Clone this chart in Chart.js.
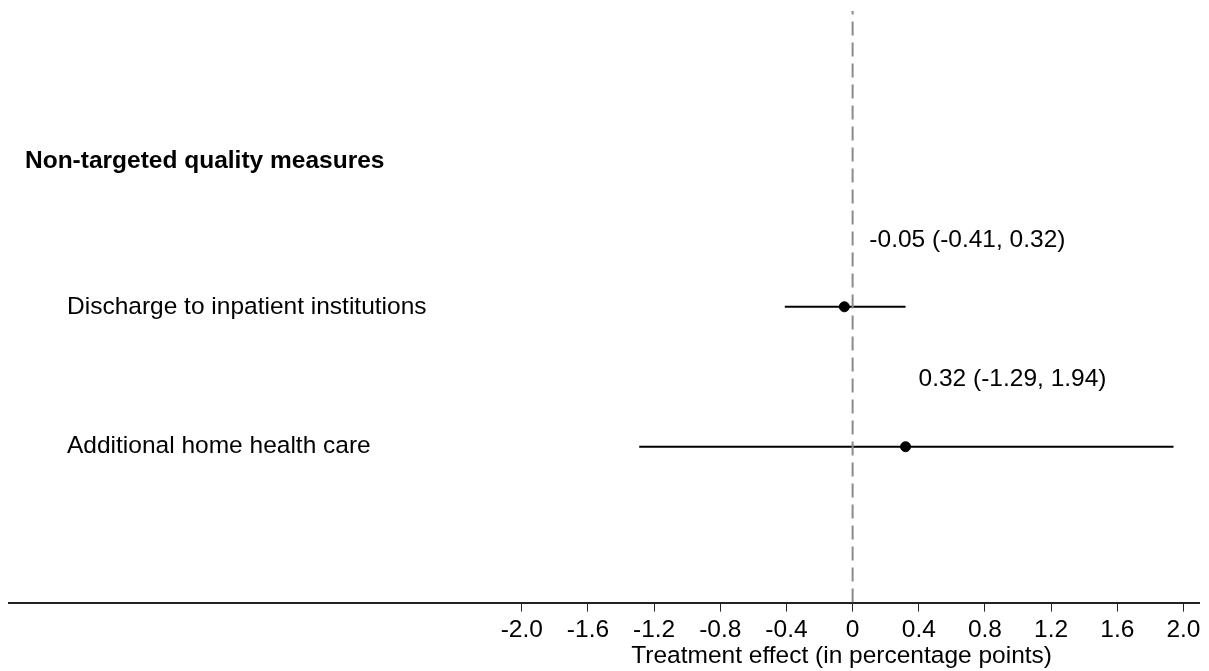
<!DOCTYPE html>
<html>
<head>
<meta charset="utf-8">
<script src="https://cdn.jsdelivr.net/npm/chart.js@4"></script>
<style>
  body { margin: 0; background: #fff; }
</style>
</head>
<body>
<canvas id="forest" width="1209" height="671"></canvas>
<script>
const groupTitle = 'Non-targeted quality measures';
const outcomes = ['Discharge to inpatient institutions', 'Additional home health care'];
const estimates = [-0.05, 0.32];
const lower = [-0.41, -1.29];
const upper = [0.32, 1.94];
const tickValues = [-2.0, -1.6, -1.2, -0.8, -0.4, 0, 0.4, 0.8, 1.2, 1.6, 2.0];
const axisTitle = 'Treatment effect (in percentage points)';

// rows counted from the bottom
const rowY = outcomes.map((_, i) => outcomes.length - i);
const labelShift = [25, 13];
const FONT = '"Liberation Sans", Arial, sans-serif';

const fmt = v => v.toFixed(2);

const datasets = [];
// reference line at zero
datasets.push({
  type: 'line',
  data: [{ x: 0, y: -0.114 }, { x: 0, y: 4.114 }],
  borderColor: '#8a8a8a',
  borderWidth: 2,
  borderDash: [14, 7],
  pointRadius: 0
});
outcomes.forEach((o, i) => {
  datasets.push({
    type: 'line',
    data: [{ x: lower[i], y: rowY[i] }, { x: upper[i], y: rowY[i] }],
    borderColor: '#000',
    borderWidth: 2,
    pointRadius: 0
  });
});
datasets.push({
  type: 'scatter',
  data: estimates.map((e, i) => ({ x: e, y: rowY[i] })),
  backgroundColor: '#000',
  borderColor: '#000',
  pointRadius: 5
});

const textPlugin = {
  id: 'rowText',
  afterDraw(chart) {
    const { ctx, chartArea, scales } = chart;
    const x = scales.x, y = scales.y;
    ctx.save();
    ctx.fillStyle = '#000';
    ctx.textBaseline = 'middle';
    ctx.textAlign = 'left';
    ctx.font = 'bold 24.5px ' + FONT;
    ctx.fillText(groupTitle, chartArea.left + 16, y.getPixelForValue(3.04));
    ctx.font = '24.5px ' + FONT;
    outcomes.forEach((o, i) => {
      ctx.fillText(o, chartArea.left + 58, y.getPixelForValue(rowY[i]));
      const txt = fmt(estimates[i]) + ' (' + fmt(lower[i]) + ', ' + fmt(upper[i]) + ')';
      ctx.fillText(txt, x.getPixelForValue(estimates[i]) + labelShift[i], y.getPixelForValue(rowY[i] + 0.479));
    });
    // axis title, centred a little left of zero like the original
    ctx.textAlign = 'center';
    ctx.fillText(axisTitle, x.getPixelForValue(0) - 11, 656);
    ctx.restore();
  }
};

new Chart(document.getElementById('forest'), {
  data: { datasets },
  options: {
    responsive: false,
    animation: false,
    layout: { padding: { left: 9, right: 10, top: 11, bottom: 22 } },
    plugins: { legend: { display: false }, tooltip: { enabled: false } },
    scales: {
      x: {
        type: 'linear',
        min: -5.1,
        max: 2.094,
        afterBuildTicks: axis => { axis.ticks = tickValues.map(v => ({ value: v })); },
        border: { display: true, color: '#222', width: 2 },
        grid: { drawOnChartArea: false, drawTicks: true, tickLength: 9, color: '#222', tickWidth: 1 },
        ticks: {
          color: '#000',
          padding: 4,
          font: { family: FONT, size: 24.5 },
          callback: v => v === 0 ? '0' : v.toFixed(1)
        }
      },
      y: {
        type: 'linear',
        display: false,
        min: -0.114,
        max: 4.114
      }
    }
  },
  plugins: [textPlugin]
});
</script>
</body>
</html>
